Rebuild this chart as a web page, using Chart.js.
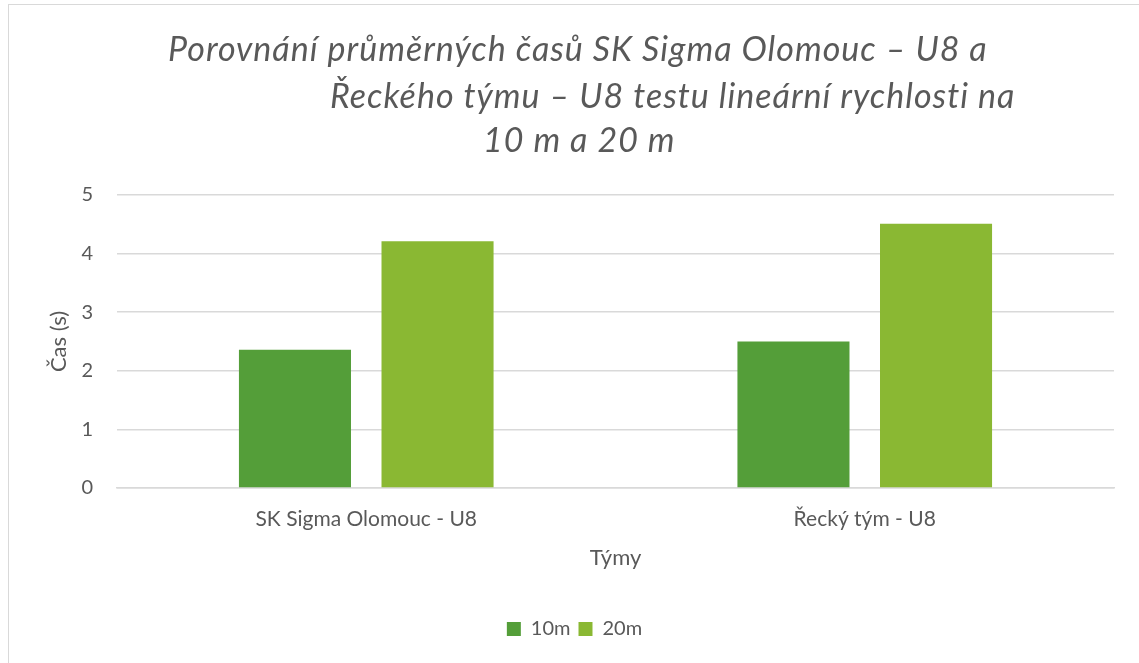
<!DOCTYPE html>
<html><head><meta charset="utf-8">
<script src="https://cdn.jsdelivr.net/npm/chart.js@4"></script>
<style>
html,body{margin:0;padding:0;background:#fff;}
#wrap{position:absolute;left:0;top:0;width:1139px;height:663px;}
#frame{position:absolute;left:8px;top:4px;width:1140px;height:670px;border-left:1px solid #d9d9d9;border-top:1px solid #d9d9d9;pointer-events:none;}
</style></head>
<body>
<div id="wrap"><canvas id="c" width="1139" height="663"></canvas></div>
<div id="frame"></div>
<script>
const categories = ["SK Sigma Olomouc - U8", "Řecký tým - U8"];
const seriesNames = ["10m", "20m"];
const values10m = [2.36, 2.50];
const values20m = [4.21, 4.51];
const titleLines = [
  "Porovnání průměrných časů SK Sigma Olomouc – U8 a",
  "Řeckého týmu – U8 testu lineární rychlosti na",
  "10 m a 20 m"
];
const yTitle = "Čas (s)";
const xTitle = "Týmy";

const FONT = "Lato, 'Open Sans', sans-serif";
const GREY = "#595959";

const titlePlugin = {
  id: 'offsetTitle',
  afterDraw(chart) {
    const ctx = chart.ctx;
    ctx.save();
    ctx.font = "italic 34px " + FONT;
    try { ctx.letterSpacing = "1px"; } catch (e) {}
    ctx.fillStyle = GREY;
    ctx.textBaseline = "middle";
    ctx.textAlign = "left";
    const xs = [168, 330, 483];
    const ys = [50, 97, 141];
    titleLines.forEach((t, i) => ctx.fillText(t, xs[i], ys[i]));
    ctx.restore();
  }
};

new Chart(document.getElementById('c'), {
  type: 'bar',
  data: {
    labels: categories,
    datasets: [
      { label: seriesNames[0], data: values10m, backgroundColor: '#549E39', borderWidth: 0 },
      { label: seriesNames[1], data: values20m, backgroundColor: '#8AB833', borderWidth: 0 }
    ]
  },
  options: {
    responsive: false,
    animation: false,
    categoryPercentage: 0.572,
    barPercentage: 0.786,
    layout: { padding: { top: 195, left: 35, right: 25, bottom: 14 } },
    plugins: {
      title: { display: false },
      tooltip: { enabled: false },
      legend: {
        position: 'bottom',
        labels: { color: GREY, font: { family: FONT, size: 20 }, boxWidth: 14, boxHeight: 14, padding: 8 }
      }
    },
    scales: {
      x: {
        grid: { display: false, drawTicks: false },
        border: { display: true, color: '#d9d9d9', width: 1.5 },
        ticks: { color: GREY, font: { family: FONT, size: 21 }, padding: 19 },
        title: { display: true, text: xTitle, color: GREY, font: { family: FONT, size: 22 }, padding: { top: 14, bottom: 40 } },
        afterFit(scale) { scale.height = 123; }
      },
      y: {
        min: 0, max: 5,
        ticks: { stepSize: 1, color: GREY, font: { family: FONT, size: 20 }, padding: 24 },
        grid: { color: '#d9d9d9', lineWidth: 1.5, drawTicks: false },
        border: { display: false },
        title: { display: true, text: yTitle, color: GREY, font: { family: FONT, size: 22 }, padding: { top: 11, bottom: 0 } },
        afterFit(scale) { scale.width = 82; }
      }
    }
  },
  plugins: [titlePlugin]
});
</script>
</body></html>
